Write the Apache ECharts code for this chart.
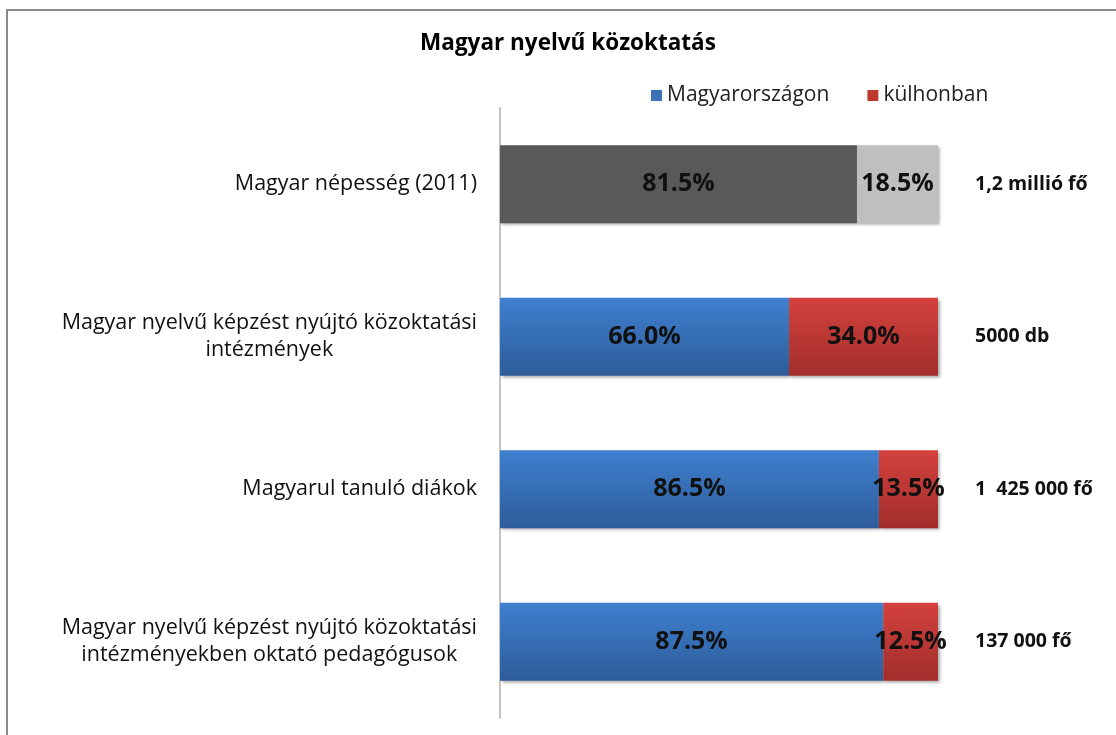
<!DOCTYPE html>
<html>
<head>
<meta charset="utf-8">
<script src="https://cdn.jsdelivr.net/npm/echarts@6/dist/echarts.min.js"></script>
<style>
html, body { margin: 0; padding: 0; background: #fff; }
#main { width: 1116px; height: 735px; }
</style>
</head>
<body>
<div id="main"></div>
<script>
var categories = [
    'Magyar népesség (2011)',
    'Magyar nyelvű képzést nyújtó közoktatási\nintézmények',
    'Magyarul tanuló diákok',
    'Magyar nyelvű képzést nyújtó közoktatási\nintézményekben oktató pedagógusok'
];
var totals = ['1,2 millió fő', '5000 db', '1  425 000 fő', '137 000 fő'];
var domestic = [81.5, 66.0, 86.5, 87.5];
var abroad = [18.5, 34.0, 13.5, 12.5];

var myChart = echarts.init(document.getElementById('main'));

var font = 'Open Sans';
function grad(top, bottom) {
    return new echarts.graphic.LinearGradient(0, 0, 0, 1, [
        {offset: 0, color: top},
        {offset: 1, color: bottom}
    ]);
}
var shadow = {shadowBlur: 3, shadowColor: 'rgba(0,0,0,0.35)', shadowOffsetX: 2, shadowOffsetY: 2};

// első sor szürke
var domData = domestic.map(function (v, i) {
    if (i === 0) return {value: v, itemStyle: {color: '#595959'}};
    return v;
});
var abrData = abroad.map(function (v, i) {
    if (i === 0) return {value: v, itemStyle: {color: '#bfbfbf'}};
    return v;
});

var labelStyle = {
    show: true,
    position: 'inside',
    fontFamily: font,
    fontWeight: 'bold',
    fontSize: 25,
    color: '#111',
    formatter: function (p) { return p.value.toFixed(1) + '%'; }
};

var option = {
    animation: false,
    title: {
        text: 'Magyar nyelvű közoktatás',
        left: 563,
        textAlign: 'center',
        top: 27,
        textStyle: {fontFamily: font, fontWeight: 'bold', fontSize: 22.5, color: '#000'}
    },
    legend: {
        left: 646,
        top: 80,
        icon: 'rect',
        itemWidth: 11,
        itemHeight: 11,
        itemGap: 38,
        textStyle: {fontFamily: font, fontSize: 21, color: '#222'},
        data: [
            {name: 'Magyarországon', itemStyle: {color: '#3c72b8'}},
            {name: 'külhonban', itemStyle: {color: '#c0392f'}}
        ]
    },
    grid: {left: 500, width: 438, top: 108, bottom: 17},
    xAxis: {type: 'value', min: 0, max: 100, show: false},
    yAxis: [{
        type: 'category',
        inverse: true,
        data: categories,
        axisLine: {lineStyle: {color: '#c4c4c4', width: 2}},
        axisTick: {show: false},
        axisLabel: {
            margin: 23,
            formatter: function (v) {
                return v.split('\n').map(function (l) { return '{c|' + l + '}'; }).join('\n');
            },
            rich: {
                c: {align: 'center', fontFamily: font, fontSize: 21.5, lineHeight: 27, color: '#111'}
            }
        }
    }, {
        type: 'category',
        inverse: true,
        position: 'right',
        data: totals,
        axisLine: {show: false},
        axisTick: {show: false},
        axisLabel: {margin: 37, fontFamily: font, fontWeight: 'bold', fontSize: 19.5, color: '#111'}
    }],
    series: [{
        name: 'Magyarországon',
        type: 'bar',
        stack: 'total',
        barWidth: '51%',
        data: domData,
        itemStyle: Object.assign({color: grad('#3e80cf', '#2e5c9a')}, shadow),
        label: labelStyle
    }, {
        name: 'külhonban',
        type: 'bar',
        stack: 'total',
        data: abrData,
        itemStyle: Object.assign({color: grad('#d3413d', '#a22e2b')}, shadow),
        label: labelStyle
    }],
    graphic: [{
        type: 'polyline',
        shape: {points: [[7, 735], [7, 10], [1116, 10]]},
        style: {stroke: '#8a8a8a', lineWidth: 2, fill: null}
    }]
};
myChart.setOption(option);
</script>
</body>
</html>
